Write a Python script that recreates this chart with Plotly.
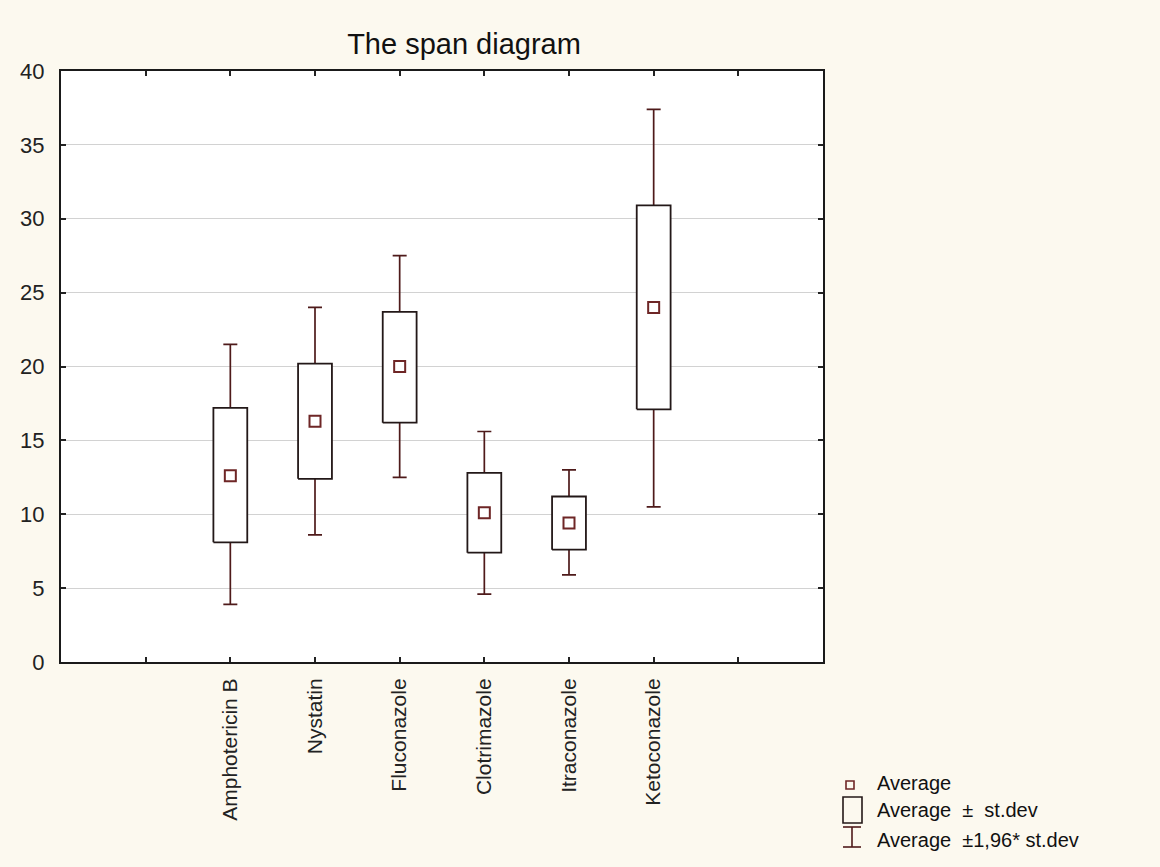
import plotly.graph_objects as go

categories = ["Amphotericin B", "Nystatin", "Fluconazole", "Clotrimazole", "Itraconazole", "Ketoconazole"]
positions = [1, 2, 3, 4, 5, 6]
mean = [12.6, 16.3, 20.0, 10.1, 9.4, 24.0]
box_low = [8.1, 12.4, 16.2, 7.4, 7.6, 17.1]
box_high = [17.2, 20.2, 23.7, 12.8, 11.2, 30.9]
whisk_low = [3.9, 8.6, 12.5, 4.6, 5.9, 10.5]
whisk_high = [21.5, 24.0, 27.5, 15.6, 13.0, 37.4]
tick_labels = [""] + categories + [""]

BOX_C = "#231818"
WH_C = "#4e1a1a"
MEAN_C = "#6e2626"
BG = "#fcf9ef"
FONT = "Liberation Sans, Arial, sans-serif"
HALF = 0.2

fig = go.Figure()

# whiskers (mean +- 1.96 sd), drawn first so boxes cover the stem inside
fig.add_trace(go.Scatter(
    x=positions, y=mean, mode="markers",
    marker=dict(size=1, color="rgba(0,0,0,0)"),
    error_y=dict(type="data", symmetric=False,
                 array=[h - m for h, m in zip(whisk_high, mean)],
                 arrayminus=[m - l for m, l in zip(mean, whisk_low)],
                 color=WH_C, thickness=1.7, width=7),
    showlegend=False, hoverinfo="skip"))

# boxes (mean +- sd) as filled rectangles
bx, by = [], []
for p, lo, hi in zip(positions, box_low, box_high):
    bx += [p - HALF, p + HALF, p + HALF, p - HALF, p - HALF, None]
    by += [lo, lo, hi, hi, lo, None]
fig.add_trace(go.Scatter(
    x=bx, y=by, mode="lines", fill="toself", fillcolor="white",
    line=dict(color=BOX_C, width=1.8), showlegend=False, hoverinfo="skip"))

# means
fig.add_trace(go.Scatter(
    x=positions, y=mean, mode="markers",
    marker=dict(symbol="square-open", size=11, color=MEAN_C, line=dict(width=2, color=MEAN_C)),
    showlegend=False, hoverinfo="skip"))

# legend (custom glyphs)
L, R, T, B = 61, 823, 71, 662
W, H = R - L, B - T
def px(xp):
    return (xp - L) / W
def py(yp):
    return (B - yp) / H

shapes = [
    dict(type="rect", xref="paper", yref="paper", x0=px(846), x1=px(854), y0=py(781), y1=py(789),
         line=dict(color=MEAN_C, width=1.6), fillcolor="rgba(0,0,0,0)"),
    dict(type="rect", xref="paper", yref="paper", x0=px(843), x1=px(862), y0=py(797), y1=py(823),
         line=dict(color=BOX_C, width=1.6), fillcolor="rgba(0,0,0,0)"),
    dict(type="line", xref="paper", yref="paper", x0=px(852), x1=px(852), y0=py(827), y1=py(847),
         line=dict(color=WH_C, width=1.6)),
    dict(type="line", xref="paper", yref="paper", x0=px(843), x1=px(861), y0=py(827), y1=py(827),
         line=dict(color=WH_C, width=1.6)),
    dict(type="line", xref="paper", yref="paper", x0=px(843), x1=px(861), y0=py(847), y1=py(847),
         line=dict(color=WH_C, width=1.6)),
]
legend_texts = ["Average", "Average\u00a0\u00a0\u00b1\u00a0\u00a0st.dev", "Average\u00a0\u00a0\u00b11,96*\u00a0st.dev"]
legend_y = [783, 810, 840]
annotations = [
    dict(xref="paper", yref="paper", x=px(875), y=py(yy), text=t, showarrow=False,
         xanchor="left", yanchor="middle", font=dict(family=FONT, size=20, color="#111"))
    for t, yy in zip(legend_texts, legend_y)
]

fig.update_layout(
    width=1160, height=867,
    paper_bgcolor=BG, plot_bgcolor="white",
    margin=dict(l=L, r=1160 - R, t=T, b=867 - B, autoexpand=False),
    title=dict(text="The span diagram", x=464 / 1160, xanchor="center", xref="container",
               y=1 - 44 / 867, yanchor="middle", font=dict(family=FONT, size=29, color="#111")),
    font=dict(family=FONT, size=21, color="#111"),
    shapes=shapes, annotations=annotations,
    xaxis=dict(range=[-1, 8], tickmode="array", tickvals=list(range(8)), ticktext=tick_labels,
               tickangle=-90, ticks="inside", ticklen=5, tickwidth=1.5, tickcolor="#222",
               showline=True, linecolor="#1a1a1a", linewidth=2, mirror="allticks",
               showgrid=False, zeroline=False, tickfont=dict(size=21, color="#222"),
               ticklabelstandoff=6, fixedrange=True),
    yaxis=dict(range=[0, 40], tickmode="linear", tick0=0, dtick=5,
               ticks="inside", ticklen=5, tickwidth=1.5, tickcolor="#222",
               showline=True, linecolor="#1a1a1a", linewidth=2, mirror="allticks",
               showgrid=True, gridcolor="#d2d2d2", gridwidth=1, zeroline=False,
               tickfont=dict(size=22, color="#222"), ticklabelstandoff=10, fixedrange=True),
)

fig.write_html("out.html", config={"displayModeBar": False},
               post_script="document.body.style.margin='0';document.body.style.background='%s';" % BG)
